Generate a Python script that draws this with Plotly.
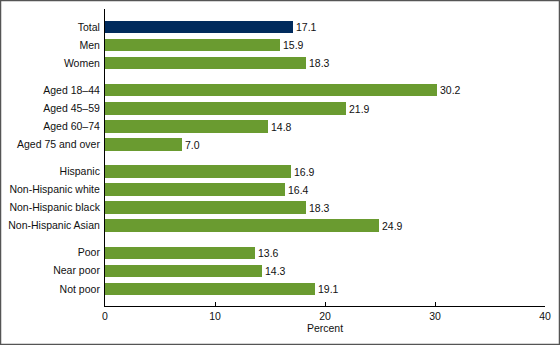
import plotly.graph_objects as go

groups = [
    ["Total", "Men", "Women"],
    ["Aged 18\u201344", "Aged 45\u201359", "Aged 60\u201374", "Aged 75 and over"],
    ["Hispanic", "Non-Hispanic white", "Non-Hispanic black", "Non-Hispanic Asian"],
    ["Poor", "Near poor", "Not poor"],
]
values = [
    [17.1, 15.9, 18.3],
    [30.2, 21.9, 14.8, 7.0],
    [16.9, 16.4, 18.3, 24.9],
    [13.6, 14.3, 19.1],
]
x_ticks = [0, 10, 20, 30, 40]
x_title = "Percent"

NAVY = "#012b5d"
GREEN = "#6a9b30"
FONT = "Liberation Sans, Arial, sans-serif"
FS = 10.5

labels, vals, ypos = [], [], []
y = 0.0
for gi, (g, v) in enumerate(zip(groups, values)):
    if gi > 0:
        y += 0.5
    for lab, val in zip(g, v):
        labels.append(lab)
        vals.append(val)
        ypos.append(y)
        y += 1.0

colors = [NAVY if lab == "Total" else GREEN for lab in labels]

fig = go.Figure()
fig.add_trace(go.Bar(
    x=vals, y=ypos, orientation="h",
    marker=dict(color=colors, line=dict(width=0)),
    width=0.69,
    text=[f"{v:.1f}" for v in vals],
    textposition="outside",
    textfont=dict(family=FONT, size=FS, color="#111"),
    cliponaxis=False,
    hoverinfo="skip",
))

W, H = 560, 345
ml, mr, mt, mb = 105, 15, 9, 39
pw, ph = W - ml - mr, H - mt - mb

fig.update_layout(
    width=W, height=H,
    margin=dict(l=ml, r=mr, t=mt, b=mb, pad=0, autoexpand=False),
    plot_bgcolor="white", paper_bgcolor="white",
    showlegend=False,
    font=dict(family=FONT, size=FS, color="#111"),
    xaxis=dict(
        range=[0, 40], tickvals=x_ticks, ticks="inside", ticklen=4,
        tickcolor="#000", showline=True, linecolor="#000", linewidth=1,
        showgrid=False, zeroline=False, fixedrange=True, automargin=False,
        title=dict(text=x_title, font=dict(size=FS), standoff=2),
        tickfont=dict(size=FS),
    ),
    yaxis=dict(
        range=[ypos[-1] + 0.95, -1.0], tickvals=ypos, ticktext=labels,
        ticks="", showline=True, linecolor="#000", linewidth=1,
        showgrid=False, zeroline=False, fixedrange=True, automargin=False,
        tickfont=dict(size=FS), ticklabelstandoff=2,
    ),
    bargap=0,
)

# outer frame around the whole image
fig.add_shape(
    type="rect", xref="paper", yref="paper",
    x0=(0.5 - ml) / pw, x1=(W - 0.5 - ml) / pw,
    y0=-(mb - 0.5) / ph, y1=(ph + mt - 0.5) / ph,
    line=dict(color="#555", width=1.5), fillcolor="rgba(0,0,0,0)",
    layer="above",
)

fig.write_html("out.html", config={"displayModeBar": False})
